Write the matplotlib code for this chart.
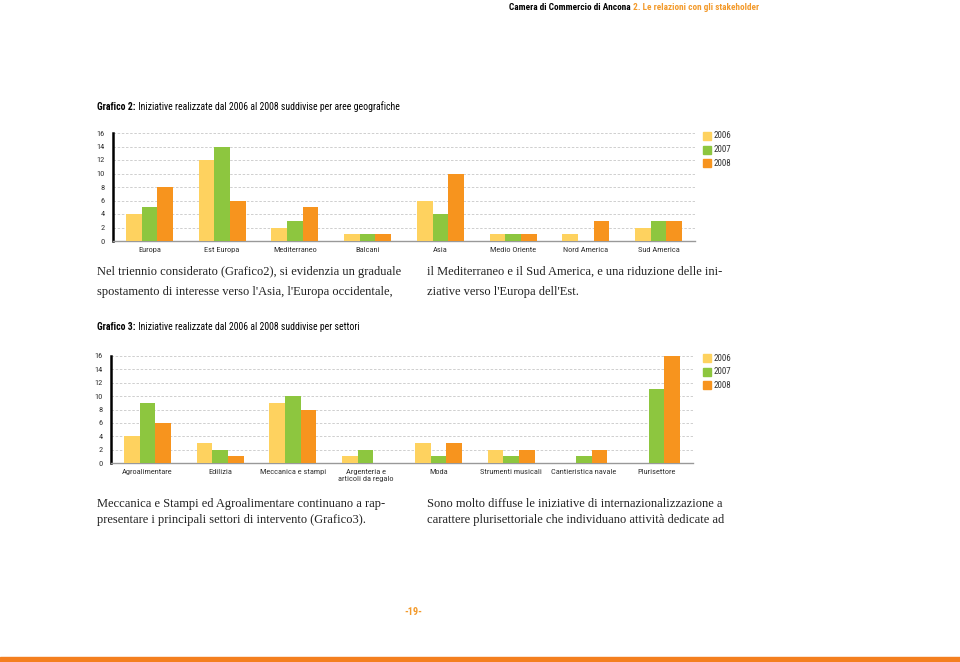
import matplotlib.pyplot as plt
from matplotlib.text import Annotation
import numpy as np

# data
years = ['2006', '2007', '2008']
aree = ['Europa', 'Est Europa', 'Mediterraneo', 'Balcani', 'Asia',
        'Medio Oriente', 'Nord America', 'Sud America']
aree_2006 = [4, 12, 2, 1, 6, 1, 1, 2]
aree_2007 = [5, 14, 3, 1, 4, 1, 0, 3]
aree_2008 = [8, 6, 5, 1, 10, 1, 3, 3]
settori = ['Agroalimentare', 'Edilizia', 'Meccanica e stampi',
           'Argenteria e\narticoli da regalo', 'Moda', 'Strumenti musicali',
           'Cantieristica navale', 'Plurisettore']
settori_2006 = [4, 3, 9, 1, 3, 2, 0, 0]
settori_2007 = [9, 2, 10, 2, 1, 1, 1, 11]
settori_2008 = [6, 1, 8, 0, 3, 2, 2, 16]
yticks = [0, 2, 4, 6, 8, 10, 12, 14, 16]

# style
colors = ['#fed25f', '#8dc63f', '#f7941e']
orange_txt = '#f39a2b'
W, H = 960, 662
narrow = ['Roboto Condensed', 'Barlow Condensed', 'Archivo Narrow', 'Liberation Sans']
serif = ['Liberation Serif', 'DejaVu Serif']
bar_w = 0.215


def px(x0, y0, x1, y1):
    # pixel box (top-left origin) to figure fraction
    return [x0/W, 1-y1/H, (x1-x0)/W, (y1-y0)/H]


def bar_chart(fig, box, cats, series, leg_y):
    ax = fig.add_axes(px(*box))
    x = np.arange(len(cats))
    for k, vals in enumerate(series):
        ax.bar(x+(k-1)*bar_w, vals, width=bar_w, color=colors[k], zorder=3)
    ax.set_xlim(-0.5, len(cats)-0.5)
    ax.set_ylim(0, 16)
    ax.set_yticks(yticks)
    ax.set_yticklabels([str(v) for v in yticks], fontsize=6, color='#333333',
        family=narrow)
    ax.set_xticks(x)
    ax.set_xticklabels(cats, fontsize=6, color='#333333', family=narrow,
        linespacing=1.3, va='top')
    ax.tick_params(length=0, pad=6, axis='y')
    ax.tick_params(length=0, pad=4, axis='x')
    for v in yticks[1:]:
        ax.axhline(v, color='#c8c8c8', lw=0.6, ls=(0, (3, 2)), zorder=1)
    for s in ['top', 'right']:
        ax.spines[s].set_visible(False)
    ax.spines['left'].set_linewidth(1.8)
    ax.spines['left'].set_color('black')
    ax.spines['bottom'].set_color('#999999')
    ax.spines['bottom'].set_linewidth(1.0)
    ax.set_facecolor('none')
    # legend
    for k, yr in enumerate(years):
        yy = leg_y + k*13.5
        fig.patches.append(plt.Rectangle((703/W, 1-(yy+4)/H), 8/W, 8/H,
            transform=fig.transFigure, color=colors[k]))
        fig.text(714/W, 1-yy/H, yr, fontsize=6.5, color='#333333', family=narrow,
            va='center')
    return ax


def title(fig, y, bold, rest):
    t = fig.text(97/W, 1-y/H, bold, fontsize=7, fontweight='bold',
        family=narrow, va='center')
    fig.add_artist(Annotation(' '+rest, xy=(1, 0.5), xycoords=t, va='center',
        ha='left', fontsize=7, family=narrow, annotation_clip=False))


fig = plt.figure(figsize=(W/100, H/100), dpi=100)

# header
h2 = fig.text(759/W, 1-7/H, '2. Le relazioni con gli stakeholder', fontsize=6.7,
    fontweight='bold', family=narrow, color=orange_txt, va='center', ha='right')
fig.add_artist(Annotation('Camera di Commercio di Ancona ', xy=(0, 0.5), xycoords=h2,
    va='center', ha='right', fontsize=6.7, fontweight='bold', family=narrow,
    annotation_clip=False))

# grafico 2
title(fig, 107, 'Grafico 2:', 'Iniziative realizzate dal 2006 al 2008 suddivise per aree geografiche')
bar_chart(fig, (113, 133, 695, 241), aree, [aree_2006, aree_2007, aree_2008], 136)

# body text
for x0, y0, s in [(97, 272, 'Nel triennio considerato (Grafico2), si evidenzia un graduale'),
                  (97, 292, "spostamento di interesse verso l'Asia, l'Europa occidentale,"),
                  (427, 272, 'il Mediterraneo e il Sud America, e una riduzione delle ini-'),
                  (427, 292, "ziative verso l'Europa dell'Est."),
                  (97, 504, 'Meccanica e Stampi ed Agroalimentare continuano a rap-'),
                  (97, 520, 'presentare i principali settori di intervento (Grafico3).'),
                  (427, 504, 'Sono molto diffuse le iniziative di internazionalizzazione a'),
                  (427, 520, 'carattere plurisettoriale che individuano attività dedicate ad')]:
    fig.text(x0/W, 1-y0/H, s, fontsize=9, family=serif, va='center', color='#222222')

# grafico 3
title(fig, 327, 'Grafico 3:', 'Iniziative realizzate dal 2006 al 2008 suddivise per settori')
bar_chart(fig, (111, 356, 693, 463), settori,
    [settori_2006, settori_2007, settori_2008], 358)

# page number and bottom band
fig.text(413/W, 1-612/H, '-19-', fontsize=7.5, fontweight='bold', family=narrow,
    color=orange_txt, va='center', ha='center')
fig.patches.append(plt.Rectangle((0, 0), 1, 5/H, transform=fig.transFigure,
    color='#f47f1f'))

fig.savefig('out.png', dpi=100)
